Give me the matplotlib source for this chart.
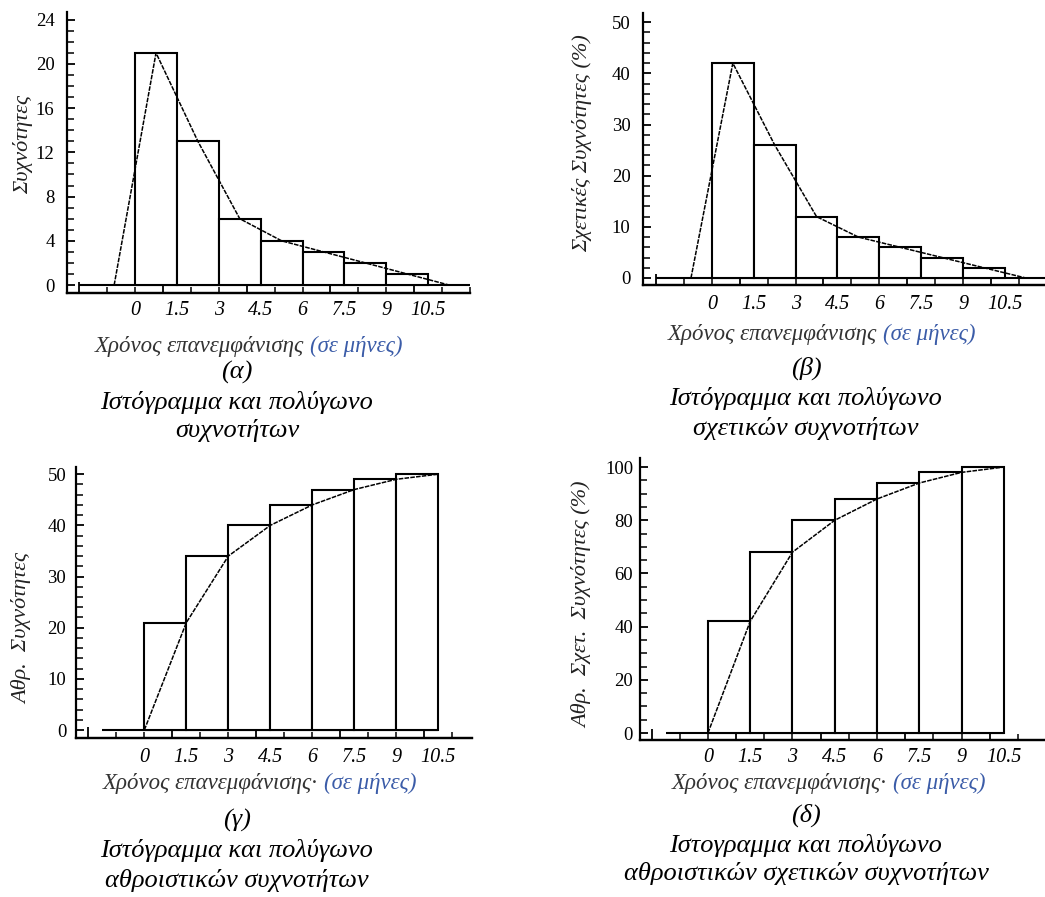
import numpy as np
import matplotlib
matplotlib.use('Agg')
import matplotlib.pyplot as plt
from matplotlib.ticker import MultipleLocator

plt.rcParams['font.family'] = ['Liberation Serif', 'DejaVu Serif']

# class edges (months) and frequencies
edges = [0, 1.5, 3, 4.5, 6, 7.5, 9, 10.5]
tick_labels = ['0', '1.5', '3', '4.5', '6', '7.5', '9', '10.5']
freq = [21, 13, 6, 4, 3, 2, 1]
rel_freq = [42, 26, 12, 8, 6, 4, 2]
cum_freq = [21, 34, 40, 44, 47, 49, 50]
cum_rel_freq = [42, 68, 80, 88, 94, 98, 100]

ylabels = ['Συχνότητες', 'Σχετικές Συχνότητες (%)',
           'Αθρ.  Συχνότητες', 'Αθρ.  Σχετ.  Συχνότητες (%)']
letters = ['(α)', '(β)', '(γ)', '(δ)']
captions = [['Ιστόγραμμα και πολύγωνο', 'συχνοτήτων'],
            ['Ιστόγραμμα και πολύγωνο', 'σχετικών συχνοτήτων'],
            ['Ιστόγραμμα και πολύγωνο', 'αθροιστικών συχνοτήτων'],
            ['Ιστογραμμα και πολύγωνο', 'αθροιστικών σχετικών συχνοτήτων']]
xlab_main = ['Χρόνος επανεμφάνισης ', 'Χρόνος επανεμφάνισης ',
             'Χρόνος επανεμφάνισης· ', 'Χρόνος επανεμφάνισης· ']
xlab_unit = '(σε μήνες)'

W, H = 1045, 897
fig = plt.figure(figsize=(W / 100, H / 100), dpi=100)


def fx(p):
    return p / W


def fy(p):
    return 1 - p / H


# pixel boxes: left, right, top, bottom(axis line)
boxes = [(67, 470, 12, 293), (643, 1045, 13, 285),
         (76, 472, 467, 738), (640, 1045, 458, 740)]
xlims = [(-2.44, 12.0), (-2.47, 11.94), (-2.44, 11.7), (-2.41, 11.96)]
ylims = [(-0.72, 24.7), (-1.37, 51.8), (-1.56, 51.4), (-2.6, 103.4)]
ymajor = [4, 10, 10, 20]
yminor = [1, 2, 2, 5]
ytop = [24, 50, 50, 100]
ypad = [9, 9, 7, 5]
xpad = [6, 7, 7, 6]
series = [freq, rel_freq, cum_freq, cum_rel_freq]
ylab_pos = [(23, 145), (582, 143), (22, 628), (582, 605)]
xlab_pos = [(95, 346), (668, 334), (103, 783), (672, 783)]
cap_x = [237, 806, 237, 806]
cap_y = [(372, 402, 430), (368, 398, 428), (820, 850, 880), (815, 845, 873)]

for i in range(4):
    l, r, t, b = boxes[i]
    ax = fig.add_axes([fx(l), fy(b), (r - l) / W, (b - t) / H])
    ax.set_xlim(*xlims[i])
    ax.set_ylim(ylims[i][0], ylims[i][1])
    for s in ['top', 'right']:
        ax.spines[s].set_visible(False)
    for s in ['left', 'bottom']:
        ax.spines[s].set_linewidth(1.6)

    vals = series[i]
    ax.bar(edges[:-1], vals, width=1.5, align='edge', facecolor='white',
           edgecolor='black', linewidth=1.5, zorder=2)

    if i < 2:
        # frequency polygon through class midpoints
        mids = [e + 0.75 for e in edges[:-1]]
        px = [edges[0] - 0.75] + mids + [edges[-1] + 0.75]
        py = [0] + list(vals) + [0]
        ax.hlines(0, -2, xlims[i][1], color='black', lw=1.5, zorder=1)
    else:
        # cumulative polygon through class upper limits
        px = edges
        py = [0] + list(vals)
        ax.hlines(0, -1.5, edges[-1], color='black', lw=1.5, zorder=1)
    ax.plot(px, py, color='black', lw=1.1, ls=(0, (3, 0.8)), zorder=3)

    # y axis
    ax.set_yticks(np.arange(0, ytop[i] + 1, ymajor[i]))
    ax.yaxis.set_minor_locator(MultipleLocator(yminor[i]))
    ax.tick_params(axis='y', which='major', direction='in', length=6,
                   width=1.3, pad=ypad[i], labelsize=13.5)
    ax.tick_params(axis='y', which='minor', direction='in', length=5,
                   width=1.1)

    # x labels at class edges, tick marks on a second bottom axis
    ax.set_xticks(edges, tick_labels, fontstyle='italic')
    ax.tick_params(axis='x', which='major', length=0, pad=xpad[i],
                   labelsize=14.5)
    sec = ax.secondary_xaxis('bottom')
    sec.set_xticks(np.arange(-2, 12, 3), [])
    sec.xaxis.set_minor_locator(MultipleLocator(1))
    sec.tick_params(which='major', direction='in', length=8, width=1.3)
    sec.tick_params(which='minor', direction='in', length=4, width=1.1)
    sec.spines['bottom'].set_linewidth(1.6)

    fig.text(fx(ylab_pos[i][0]), fy(ylab_pos[i][1]), ylabels[i],
             rotation=90, ha='center', va='center', fontsize=16,
             fontstyle='italic', color='#222222')

    t1 = fig.text(fx(xlab_pos[i][0]), fy(xlab_pos[i][1]), xlab_main[i],
                  ha='left', va='center', fontsize=16.5, fontstyle='italic',
                  color='#333333')
    ax.annotate(xlab_unit, xy=(1, 0.5), xycoords=t1, ha='left',
                va='center', fontsize=16.5, fontstyle='italic',
                color='#3b5ca8', annotation_clip=False)

    cy = cap_y[i]
    fig.text(fx(cap_x[i]), fy(cy[0]), letters[i], ha='center', va='center',
             fontsize=19, fontstyle='italic')
    fig.text(fx(cap_x[i]), fy(cy[1]), captions[i][0], ha='center',
             va='center', fontsize=19, fontstyle='italic')
    fig.text(fx(cap_x[i]), fy(cy[2]), captions[i][1], ha='center',
             va='center', fontsize=19, fontstyle='italic')

fig.savefig('out.png', dpi=100)
